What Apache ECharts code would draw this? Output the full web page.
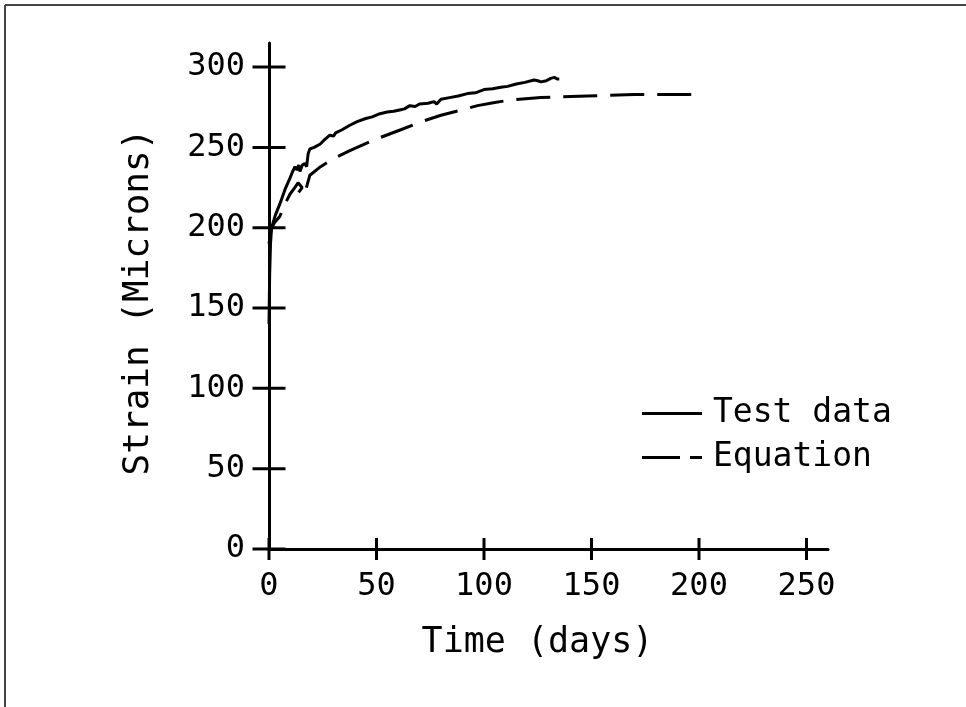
<!DOCTYPE html>
<html>
<head>
<meta charset="utf-8">
<script src="https://cdn.jsdelivr.net/npm/echarts@6/dist/echarts.min.js"></script>
<style>
html,body{margin:0;padding:0;background:#fff;}
#chart{width:966px;height:707px;}
</style>
</head>
<body>
<div id="chart"></div>
<script>
var xTicks = [0, 50, 100, 150, 200, 250];
var yTicks = [0, 50, 100, 150, 200, 250, 300];

var testData = [
  [0,140],[0.3,170],[0.7,190],[1.2,200],[3,208],[5.1,215],[7.5,224],[9.8,231],[11,235],
  [12.1,238],[13,236],[13.8,239],[14.4,235],[15.5,239],[16.7,240],[17.5,238],[18.2,246],
  [19,249],[21,250],[23.7,252],[26,255],[28.3,257.6],[30,257],[31,259],[34,261],[37.6,263.8],
  [41,266],[45,268],[48,269],[51.6,271],[55,272],[58,272.5],[61.3,273.5],[63,274],[65.5,276],
  [68,275.5],[70,277],[74,277.5],[76.8,278.5],[78,277],[80,280],[84,281],[88,282],[92.3,283.5],
  [96,284],[100,286],[104,286.5],[107.8,287.5],[111,288],[115,289.5],[119,290.5],[123.3,292],
  [125,291.5],[126.5,290.8],[129,291.5],[131,293],[132.7,293.6],[134,292.6],[135,292.6]
];

var equationData = [
  [0,190],[1,199],[2.5,203],[5,207],[7.5,215],[9.8,221],[12,225],[13.5,228],[15.4,225],
  [13.5,221.5],[16.8,222],[19,232.7],[24,238],[30,243],[37.6,248],[48.5,254.5],[61.3,261],
  [70.6,265.9],[80,270],[90,273.5],[97,276],[105,278],[112.5,279.5],[126.5,281],[148,282],
  [170,283],[199,283]
];

var FONT = 'DejaVu Sans Mono';
var chart = echarts.init(document.getElementById('chart'));

chart.setOption({
  animation: false,
  backgroundColor: '#fff',
  grid: {left: 269, right: 138, top: 43, bottom: 158, containLabel: false},
  xAxis: {
    type: 'value', min: 0, max: 260, interval: 50, position: 'bottom',
    name: 'Time (days)', nameLocation: 'middle', nameGap: 76,
    nameTextStyle: {fontFamily: FONT, fontSize: 35, color: '#000', padding: [0, 22, 0, 0]},
    axisLine: {show: true, onZero: false, lineStyle: {color: '#000', width: 3}},
    axisTick: {show: false},
    axisLabel: {show: true, customValues: xTicks, margin: 22,
                fontFamily: FONT, fontSize: 32, color: '#000'},
    splitLine: {show: false}, minorTick: {show: false}
  },
  yAxis: {
    type: 'value', min: 0, max: 315, interval: 50, position: 'left',
    name: 'Strain (Microns)', nameLocation: 'middle', nameGap: 112, nameRotate: 90,
    nameTextStyle: {fontFamily: FONT, fontSize: 36, color: '#000', padding: [0, 12, 0, 0]},
    axisLine: {show: true, onZero: false, lineStyle: {color: '#000', width: 3}},
    axisTick: {show: false},
    axisLabel: {show: true, customValues: yTicks, margin: 24,
                fontFamily: FONT, fontSize: 32, color: '#000'},
    splitLine: {show: false}, minorTick: {show: false}
  },
  legend: {
    data: [
      {name: 'Test data', icon: 'path://M0 0H60V3H0Z'},
      {name: 'Equation', icon: 'path://M0 0H38V3H0Z M48 0H60V3H48Z'}
    ],
    orient: 'vertical', left: 637, top: 392,
    itemWidth: 60, itemHeight: 3, itemGap: 11,
    itemStyle: {color: '#000'},
    textStyle: {fontFamily: FONT, fontSize: 33, color: '#000', padding: [0, 0, 0, 6]}
  },
  graphic: [
    {type: 'line', shape: {x1: 5, y1: 5, x2: 966, y2: 5}, style: {stroke: '#444', lineWidth: 2}},
    {type: 'line', shape: {x1: 5, y1: 5, x2: 5, y2: 707}, style: {stroke: '#444', lineWidth: 2}}
  ],
  series: [
    {
      name: 'Test data', type: 'line', data: testData, showSymbol: false, symbol: 'none',
      lineStyle: {color: '#000', width: 3, type: 'solid'}, itemStyle: {color: '#000'}
    },
    {
      name: 'Equation', type: 'line', data: equationData, showSymbol: false, symbol: 'none',
      lineStyle: {color: '#000', width: 3, type: [34, 13]}, itemStyle: {color: '#000'}
    },
    {
      name: 'xTickMarks', type: 'scatter', silent: true, clip: false,
      data: xTicks.map(function (v) { return [v, 0]; }),
      symbol: 'rect', symbolSize: [3, 22], itemStyle: {color: '#000', opacity: 1},
      z: 3
    },
    {
      name: 'yTickMarks', type: 'scatter', silent: true, clip: false,
      data: yTicks.map(function (v) { return [0, v]; }),
      symbol: 'rect', symbolSize: [33, 3], itemStyle: {color: '#000', opacity: 1},
      z: 3
    }
  ]
});
</script>
</body>
</html>
